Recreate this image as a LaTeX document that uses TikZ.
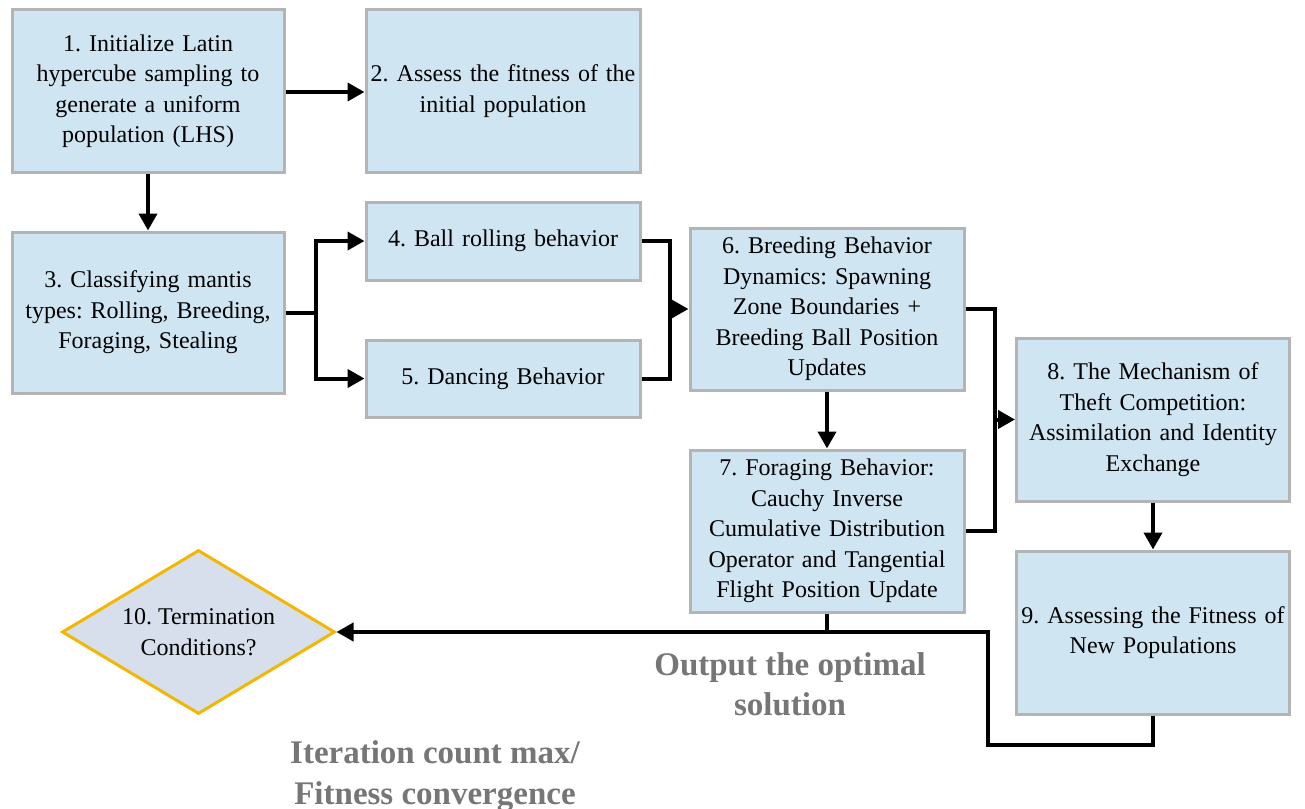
\documentclass[tikz,border=0pt]{standalone}
\usepackage{fontspec}
\setmainfont{Liberation Serif}
\usetikzlibrary{arrows.meta,shapes.geometric,calc}
\definecolor{boxfill}{HTML}{CFE5F2}
\definecolor{boxdraw}{HTML}{B4B4B4}
\definecolor{dfill}{HTML}{D6DFEB}
\definecolor{ddraw}{HTML}{F2B705}
\definecolor{graytxt}{HTML}{767676}
\frenchspacing
\begin{document}
\begin{tikzpicture}[x=1pt,y=-1pt,
  stepbox/.style={draw=boxdraw,fill=boxfill,line width=3pt,minimum width=272pt,align=center,
    font=\fontsize{24}{30.5}\selectfont,inner sep=0pt,text width=272pt},
  decbox/.style={diamond,draw=ddraw,fill=dfill,line width=3pt,minimum width=273pt,minimum height=164pt,
    inner sep=0pt,aspect=1.66,align=center,font=\fontsize{24}{30.5}\selectfont},
  conn/.style={line width=4pt,line join=miter},
  arr/.style={conn,-{Triangle[length=17pt,width=18pt]}},
  graylabel/.style={text=graytxt,font=\fontsize{33}{40.5}\selectfont\bfseries,align=center}]
\useasboundingbox (0,0) rectangle (1305,808);
\node[stepbox,minimum height=162pt] (b1) at (148,91) {1. Initialize Latin\\hypercube sampling to\\generate a uniform\\population (LHS)};
\node[stepbox,minimum height=162pt,minimum width=274pt] (b2) at (503,91) {2. Assess the fitness of the\\initial population};
\node[stepbox,minimum height=161pt] (b3) at (148,312.5) {3. Classifying mantis\\types: Rolling, Breeding,\\Foraging, Stealing};
\node[stepbox,minimum height=78pt,minimum width=274pt] (b4) at (503,241) {4. Ball rolling behavior};
\node[stepbox,minimum height=77pt,minimum width=274pt] (b5) at (503,378.5) {5. Dancing Behavior};
\node[stepbox,minimum height=162pt,minimum width=274pt] (b6) at (827,309) {6. Breeding Behavior\\Dynamics: Spawning\\Zone Boundaries +\\Breeding Ball Position\\Updates};
\node[stepbox,minimum height=162pt,minimum width=274pt] (b7) at (827,531) {7. Foraging Behavior:\\Cauchy Inverse\\Cumulative Distribution\\Operator and Tangential\\Flight Position Update};
\node[stepbox,minimum height=163pt,minimum width=273pt] (b8) at (1153,419.5) {8. The Mechanism of\\Theft Competition:\\Assimilation and Identity\\Exchange};
\node[stepbox,minimum height=163pt,minimum width=273pt] (b9) at (1153,632.5) {9. Assessing the Fitness of\\New Populations};
\node[decbox] (d10) at (198.5,632) {10. Termination\\Conditions?};
\node[graylabel] (out) at (790,684) {Output the optimal\\solution};
\node[graylabel] (iter) at (435,776) {Iteration count max/\\Fitness convergence};
% connectors
\coordinate (y92) at (0,92);
\draw[arr] (b1.east |- y92) -- (b2.west |- y92);
\draw[arr] (b1.south) -- (b3.north);
\coordinate (j1) at ([xshift=30pt]b3.east);
\draw[conn] (b3.east) -- (j1);
\draw[arr] (j1) |- (b4.west);
\draw[arr] (j1) |- (b5.west);
\coordinate (j2) at ([xshift=28pt]b4.east);
\draw[conn] (b4.east) -- (j2) -- (j2 |- b5.east) -- (b5.east);
\draw[arr] (j2 |- b6.west) -- (b6.west);
\draw[arr] (b6.south) -- (b7.north);
\coordinate (j3) at ([xshift=29pt]b6.east);
\draw[conn] (b6.east) -- (j3) -- (j3 |- b7.east) -- (b7.east);
\draw[arr] (j3 |- b8.west) -- (b8.west);
\draw[arr] (b8.south) -- (b9.north);
\coordinate (j4) at ([yshift=-29pt]b9.south);
\coordinate (x988) at (988,0);
\draw[arr] (b9.south) -- (j4) -- (j4 -| x988) -- (x988 |- d10.east) -- (d10.east);
\draw[conn] (b7.south) -- (b7.south |- d10.east);
\end{tikzpicture}
\end{document}
